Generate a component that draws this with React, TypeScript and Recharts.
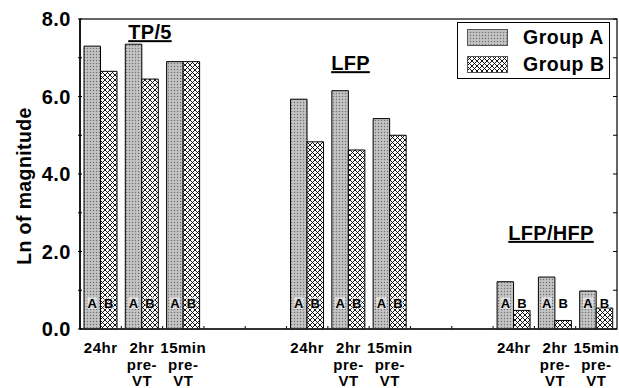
import React from "react";
import {
  BarChart,
  Bar,
  XAxis,
  YAxis,
  LabelList,
  ReferenceDot,
  ReferenceArea
} from "recharts";

// measures (group titles) and time points
const measures = ["TP/5", "LFP", "LFP/HFP"];
const timePoints = ["24hr", "2hr", "15min"];
const tickLines: Record<string, string[]> = {
  "24hr": ["24hr"],
  "2hr": ["2hr", "pre-", "VT"],
  "15min": ["15min", "pre-", "VT"]
};

// Ln of magnitude (TP/5 x3, LFP x3, LFP/HFP x3)
const groupA = [7.3, 7.35, 6.9, 5.93, 6.15, 5.43, 1.22, 1.34, 0.98];
const groupB = [6.65, 6.45, 6.9, 4.83, 4.62, 5.0, 0.48, 0.22, 0.54];

const yTicks = [0, 1, 2, 3, 4, 5, 6, 7, 8];

// where each measure title sits (category slot + value)
const titleSlot = ["TP/5-2hr", "LFP-2hr", "LFP/HFP-2hr"];
const titleValue = [7.66, 6.86, 2.48];
const titleDx = [8, 2, -4];

// build slots: 3 bars per measure, 2 empty slots between measures
const data: any[] = [];
measures.forEach((m, mi) => {
  if (mi > 0) {
    data.push({ id: "gap" + mi + "a", time: "" });
    data.push({ id: "gap" + mi + "b", time: "" });
  }
  timePoints.forEach((t, ti) => {
    data.push({
      id: m + "-" + t,
      time: t,
      a: groupA[mi * 3 + ti],
      b: groupB[mi * 3 + ti]
    });
  });
});

const font = "'Liberation Sans', Arial, sans-serif";

const Patterns = () => (
  <svg width={0} height={0} style={{ position: "absolute" }}>
    <defs>
      <pattern id="patA" patternUnits="userSpaceOnUse" width={3} height={3}>
        <rect width={3} height={3} fill="#b9b9b9" />
        <rect x={0} y={0} width={1} height={1} fill="#6e6e6e" />
        <rect x={1.5} y={1.5} width={1} height={1} fill="#e2e2e2" />
      </pattern>
      <pattern id="patB" patternUnits="userSpaceOnUse" width={5} height={5}>
        <rect width={5} height={5} fill="#fff" />
        <path d="M0,0 L5,5 M5,0 L0,5 M-1,4 L1,6 M4,-1 L6,1 M4,6 L6,4 M-1,1 L1,-1" stroke="#000" strokeWidth={0.9} />
      </pattern>
    </defs>
  </svg>
);

const letter = (ch: string) => (props: any) => {
  const { x, y, width, height } = props;
  if (x == null || height == null) return null;
  const cx = x + width / 2;
  const cy = y + height - 26;
  return (
    <g>
      <rect x={cx - 5} y={cy - 6} width={10} height={12} fill="#fff" opacity={0.5} />
      <text x={cx} y={cy + 5} textAnchor="middle" fontFamily={font} fontWeight="bold" fontSize={13} fill="#000">
        {ch}
      </text>
    </g>
  );
};

const XTick = (props: any) => {
  const { x, y, payload } = props;
  const row = data.find((d) => d.id === payload.value);
  const lines = row && row.time ? tickLines[row.time] : [];
  return (
    <g>
      {lines.map((l: string, i: number) => (
        <text key={i} x={x} y={y + 22 + i * 16.5} textAnchor="middle" fontFamily={font} fontWeight="bold" fontSize={15} letterSpacing={0.5} fill="#000">
          {l}
        </text>
      ))}
    </g>
  );
};

const YTick = (props: any) => {
  const { x, y, payload } = props;
  const v = payload.value;
  return (
    <g>
      <line x1={x} x2={x + 4} y1={y} y2={y} stroke="#000" strokeWidth={1} />
      {v % 2 === 0 && (
        <text x={x - 7} y={y + 7} textAnchor="end" fontFamily={font} fontWeight="bold" fontSize={20} letterSpacing={0.5} fill="#000">
          {v.toFixed(1)}
        </text>
      )}
    </g>
  );
};

// plot frame with inward ticks on the right (per unit) and bottom (slot borders)
const Frame = (props: any) => {
  const { x, y, width, height } = props;
  if (x == null) return null;
  const n = data.length;
  const units = yTicks.length - 1;
  return (
    <g>
      <rect x={x} y={y} width={width} height={height} fill="none" stroke="#000" strokeWidth={1.2} />
      {yTicks.map((t, i) => (
        <line key={"r" + i} x1={x + width} x2={x + width - 4} y1={y + (height * i) / units} y2={y + (height * i) / units} stroke="#000" />
      ))}
      {data.slice(1).map((d, i) => (
        <line key={"b" + i} x1={x + (width * (i + 1)) / n} x2={x + (width * (i + 1)) / n} y1={y + height} y2={y + height - 3} stroke="#000" />
      ))}
    </g>
  );
};

const LegendBox = () => (
  <div
    style={{
      position: "absolute",
      left: 457,
      top: 22,
      border: "1px solid #000",
      width: 153,
      height: 57,
      background: "#fff",
      fontFamily: font,
      fontWeight: "bold",
      fontSize: 19.5,
      letterSpacing: 0.5,
      boxSizing: "border-box"
    }}
  >
    {[
      { name: "Group A", fill: "url(#patA)", top: 4 },
      { name: "Group B", fill: "url(#patB)", top: 31 }
    ].map((it) => (
      <div key={it.name} style={{ position: "absolute", left: 9, top: it.top, height: 20, display: "flex", alignItems: "center" }}>
        <svg width={41} height={17}>
          <rect x={0.5} y={0.5} width={40} height={16} fill={it.fill} stroke="#555" />
        </svg>
        <span style={{ marginLeft: 15, lineHeight: "20px" }}>{it.name}</span>
      </div>
    ))}
  </div>
);

const App = () => {
  return (
    <div style={{ position: "relative", width: 619, height: 388, background: "#fff", overflow: "hidden" }}>
      <style>{`body{margin:0;background:#fff}`}</style>
      <Patterns />
      <BarChart
        width={619}
        height={388}
        data={data}
        margin={{ top: 19, right: 2, bottom: 0, left: 0 }}
        barGap={0}
        barSize={16.5}
      >
        <XAxis
          dataKey="id"
          interval={0}
          tick={<XTick />}
          tickLine={false}
          tickSize={0}
          height={59}
          axisLine={{ stroke: "#222", strokeWidth: 1.5 }}
        />
        <YAxis
          domain={[0, 8]}
          ticks={yTicks}
          interval={0}
          width={80}
          tickSize={0}
          tickLine={false}
          tick={<YTick />}
          axisLine={{ stroke: "#000", strokeWidth: 1.5 }}
          label={(p: any) => {
            const vb = p.viewBox || {};
            const cy = (vb.y || 19) + (vb.height || 310) / 2 + 12;
            return (
              <text x={24} y={cy} transform={`rotate(-90, 24, ${cy})`} textAnchor="middle" dominantBaseline="central" fontFamily={font} fontWeight="bold" fontSize={19.5} letterSpacing={0.4} fill="#000">
                Ln of magnitude
              </text>
            );
          }}
        />
        <ReferenceArea y1={0} y2={8} shape={<Frame />} ifOverflow="visible" />
        <Bar dataKey="a" name="Group A" fill="url(#patA)" stroke="#000" strokeWidth={1} isAnimationActive={false}>
          <LabelList dataKey="a" content={letter("A")} />
        </Bar>
        <Bar dataKey="b" name="Group B" fill="url(#patB)" stroke="#000" strokeWidth={1} isAnimationActive={false}>
          <LabelList dataKey="b" content={letter("B")} />
        </Bar>
        {measures.map((m, i) => (
          <ReferenceDot
            key={m}
            x={titleSlot[i]}
            y={titleValue[i]}
            r={0}
            stroke="none"
            fill="none"
            label={(p: any) => {
              const vb = p.viewBox || {};
              const cx = (vb.x || 0) + (vb.width || 0) / 2 + titleDx[i];
              const cy = (vb.y || 0) + (vb.height || 0) / 2;
              return (
                <text x={cx} y={cy + 7} textAnchor="middle" fontFamily={font} fontWeight="bold" fontSize={20} letterSpacing={0.3} fill="#000" style={{ textDecoration: "underline" }}>
                  {m}
                </text>
              );
            }}
          />
        ))}
      </BarChart>
      <LegendBox />
    </div>
  );
};

export default App;
